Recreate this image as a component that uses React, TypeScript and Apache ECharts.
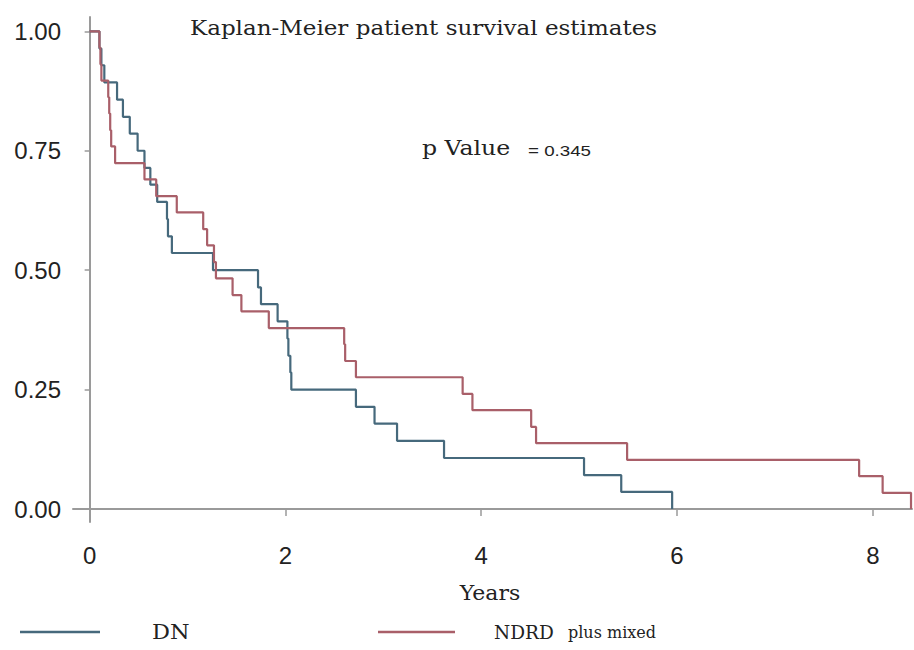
import React, { useEffect, useRef } from "react";
import * as echarts from "echarts";

const titleText = "Kaplan-Meier patient survival estimates";
const pValueLabel = "p Value";
const pValueText = "= 0.345";
const xAxisName = "Years";
const xTicks = [0, 2, 4, 6, 8];
const yTicks = [0, 0.25, 0.5, 0.75, 1];

const seriesNames = ["DN", "NDRD"];
const legendExtra = "plus mixed";

const dnTimes = [0, 0.1, 0.12, 0.15, 0.28, 0.34, 0.41, 0.49, 0.56, 0.62, 0.69, 0.79, 0.8, 0.84, 1.26, 1.72, 1.75, 1.92, 2.02, 2.03, 2.05, 2.06, 2.72, 2.91, 3.14, 3.62, 5.05, 5.43, 5.95];
const dnSurv = [1, 0.964, 0.929, 0.893, 0.857, 0.821, 0.786, 0.75, 0.714, 0.679, 0.643, 0.607, 0.571, 0.536, 0.5, 0.464, 0.429, 0.393, 0.357, 0.321, 0.286, 0.25, 0.214, 0.179, 0.143, 0.107, 0.071, 0.036, 0];

const ndrdTimes = [0, 0.1, 0.11, 0.12, 0.19, 0.2, 0.21, 0.22, 0.26, 0.56, 0.68, 0.89, 1.16, 1.2, 1.27, 1.29, 1.46, 1.55, 1.83, 2.6, 2.61, 2.72, 3.81, 3.91, 4.51, 4.56, 5.49, 7.86, 8.1, 8.39];
const ndrdSurv = [1, 0.966, 0.931, 0.897, 0.862, 0.828, 0.793, 0.759, 0.724, 0.69, 0.655, 0.621, 0.586, 0.552, 0.517, 0.483, 0.448, 0.414, 0.379, 0.345, 0.31, 0.276, 0.241, 0.207, 0.172, 0.138, 0.103, 0.069, 0.034, 0];

const dnColor = "#46697c";
const ndrdColor = "#a95f69";
const axisColor = "#9a9a9a";
const textColor = "#222";
const serif = "DejaVu Serif";
const sans = "Liberation Sans";

export default function App() {
  const ref = useRef<HTMLDivElement>(null);
  useEffect(() => {
    if (!ref.current) return;
    const chart = echarts.init(ref.current, undefined, { renderer: "svg" });
    const option: any = {
      animation: false,
      backgroundColor: "#ffffff",
      grid: { left: 73, right: 2, top: 17, bottom: 128 },
      xAxis: {
        type: "value",
        min: -0.17,
        max: 8.4,
        axisLine: { show: true, lineStyle: { color: axisColor, width: 2 } },
        axisTick: { show: true, customValues: xTicks, length: 7, lineStyle: { color: axisColor, width: 1.5 } },
        axisLabel: { customValues: xTicks, fontFamily: sans, fontSize: 24, color: textColor, margin: 21 },
        splitLine: { show: false },
      },
      yAxis: {
        type: "value",
        min: -0.027,
        max: 1.03,
        axisLine: { show: true, lineStyle: { color: axisColor, width: 2 } },
        axisTick: { show: true, customValues: yTicks, length: 5, lineStyle: { color: axisColor, width: 1.5 } },
        axisLabel: {
          customValues: yTicks,
          formatter: (v: number) => v.toFixed(2),
          fontFamily: sans,
          fontSize: 24,
          color: textColor,
          margin: 12,
        },
        splitLine: { show: false },
      },
      series: [
        {
          type: "line",
          name: seriesNames[0],
          step: "end",
          showSymbol: false,
          data: dnTimes.map((t, i) => [t, dnSurv[i]]),
          lineStyle: { color: dnColor, width: 2.2 },
          itemStyle: { color: dnColor },
        },
        {
          type: "line",
          name: seriesNames[1],
          step: "end",
          showSymbol: false,
          data: ndrdTimes.map((t, i) => [t, ndrdSurv[i]]),
          lineStyle: { color: ndrdColor, width: 2.2 },
          itemStyle: { color: ndrdColor },
        },
      ],
      graphic: [
        { type: "text", x: 190, y: 28, scaleX: 1.15, style: { text: titleText, fontFamily: serif, fontSize: 20, fill: textColor, textVerticalAlign: "middle" } },
        { type: "text", x: 422, y: 148, scaleX: 1.18, style: { text: pValueLabel, fontFamily: serif, fontSize: 20, fill: textColor, textVerticalAlign: "middle" } },
        { type: "text", x: 528, y: 151, scaleX: 1.25, style: { text: pValueText, fontFamily: sans, fontSize: 15, fill: textColor, textVerticalAlign: "middle" } },
        { type: "text", x: 490, y: 593, scaleX: 1.1, style: { text: xAxisName, fontFamily: serif, fontSize: 20, fill: textColor, textAlign: "center", textVerticalAlign: "middle" } },
        { type: "line", shape: { x1: 20, y1: 632, x2: 100, y2: 632 }, style: { stroke: dnColor, lineWidth: 2.5 } },
        { type: "text", x: 152, y: 632, scaleX: 1.12, style: { text: seriesNames[0], fontFamily: serif, fontSize: 20, fill: textColor, textVerticalAlign: "middle" } },
        { type: "line", shape: { x1: 378, y1: 632, x2: 455, y2: 632 }, style: { stroke: ndrdColor, lineWidth: 2.5 } },
        { type: "text", x: 494, y: 632, style: { text: seriesNames[1], fontFamily: serif, fontSize: 18.5, fill: textColor, textVerticalAlign: "middle" } },
        { type: "text", x: 568, y: 632, style: { text: legendExtra, fontFamily: serif, fontSize: 16, fill: textColor, textVerticalAlign: "middle" } },
      ],
    };
    chart.setOption(option);
    return () => chart.dispose();
  }, []);
  return <div ref={ref} style={{ position: "absolute", left: 0, top: 0, width: 914, height: 650 }} />;
}
